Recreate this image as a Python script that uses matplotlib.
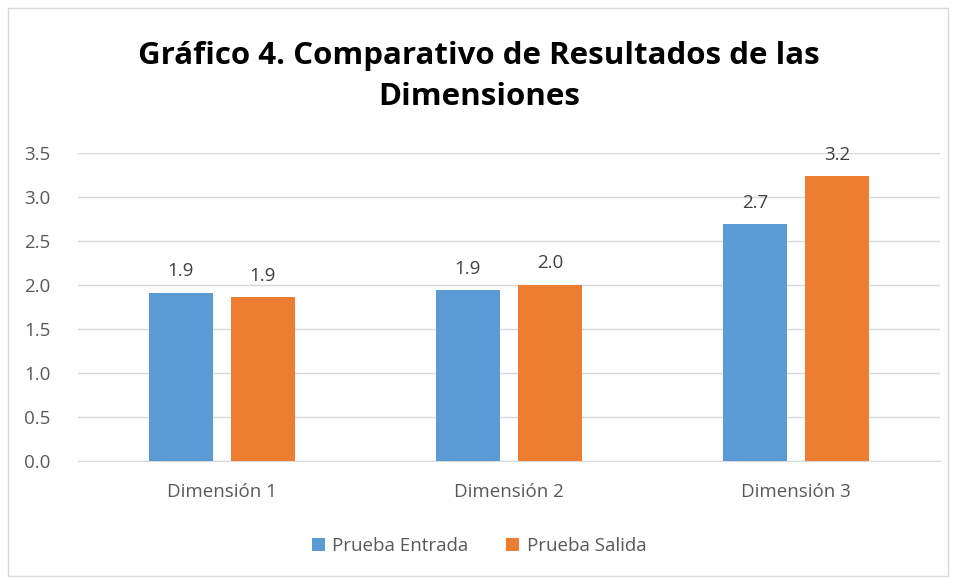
import matplotlib.pyplot as plt
import numpy as np
from matplotlib.patches import Rectangle

plt.rcParams['font.family'] = ['Open Sans', 'DejaVu Sans']

categories = ['Dimensión 1', 'Dimensión 2', 'Dimensión 3']
entrada = [1.91, 1.94, 2.69]
salida = [1.86, 2.00, 3.23]
series_names = ['Prueba Entrada', 'Prueba Salida']
yticks = [0.0, 0.5, 1.0, 1.5, 2.0, 2.5, 3.0, 3.5]

blue = '#5b9bd5'
orange = '#ed7d31'
text_color = '#595959'

fig = plt.figure(figsize=(9.58, 5.79), dpi=100)
ax = fig.add_axes([0.0814, 0.2038, 0.8996, 0.5325])

x = np.arange(len(categories))
width = 0.223
gap = 0.063
b1 = ax.bar(x - (width + gap) / 2, entrada, width, color=blue, label=series_names[0], zorder=3)
b2 = ax.bar(x + (width + gap) / 2, salida, width, color=orange, label=series_names[1], zorder=3)

for bars, vals in [(b1, entrada), (b2, salida)]:
    for rect, v in zip(bars, vals):
        ax.annotate(f'{v:.1f}', (rect.get_x() + rect.get_width() / 2, v),
                    xytext=(0, 9), textcoords='offset points',
                    ha='center', va='bottom', fontsize=13.5, color='#404040')

ax.set_xlim(-0.5, 2.5)
ax.set_ylim(0, 3.5)
ax.set_yticks(yticks)
ax.set_yticklabels([f'{t:.1f}' for t in yticks])
ax.set_xticks(x)
ax.set_xticklabels(categories)
ax.tick_params(axis='both', length=0, labelsize=13.5, labelcolor=text_color)
ax.tick_params(axis='y', pad=20)
ax.tick_params(axis='x', pad=16)
ax.grid(axis='y', color='#d9d9d9', linewidth=1, zorder=0)
for s in ['top', 'right', 'left']:
    ax.spines[s].set_visible(False)
ax.spines['bottom'].set_color('#d9d9d9')

fig.text(0.5, 0.868, 'Gráfico 4. Comparativo de Resultados de las\nDimensiones',
         ha='center', va='center', fontsize=22.5, fontweight='bold', color='black',
         linespacing=1.45)

fig.legend(loc='lower center', bbox_to_anchor=(0.5, 0.012), ncol=2, frameon=False,
           fontsize=13.5, labelcolor=text_color, handlelength=0.7, handleheight=0.7,
           handletextpad=0.4, columnspacing=2.0)

fig.patches.append(Rectangle((0.008, 0.006), 0.982, 0.98, transform=fig.transFigure,
                             fill=False, edgecolor='#d9d9d9', linewidth=1))

fig.savefig('out.png', dpi=100)
